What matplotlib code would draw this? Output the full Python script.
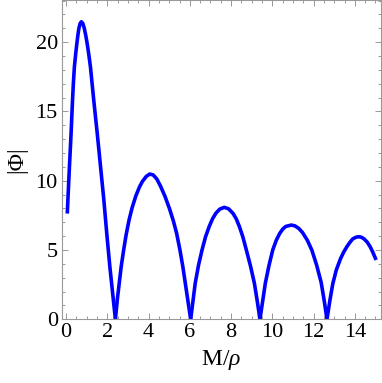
import matplotlib
matplotlib.use("Agg")
import matplotlib.pyplot as plt
from matplotlib.ticker import MultipleLocator

plt.rcParams['font.family'] = ['Liberation Serif', 'DejaVu Serif']
plt.rcParams['mathtext.fontset'] = 'custom'
plt.rcParams['mathtext.rm'] = 'Liberation Serif'
plt.rcParams['mathtext.it'] = 'Liberation Serif:italic'

# |Phi| against M/rho
m_rho = [0.06, 0.11, 0.16, 0.20, 0.24, 0.31, 0.35, 0.40, 0.46, 0.52, 0.57, 0.62,
         0.68, 0.74, 0.81, 0.88, 0.95, 1.02, 1.10, 1.18, 1.26, 1.34, 1.51, 1.67,
         1.83, 1.97, 2.12, 2.29, 2.39,
         2.48, 2.67, 2.79, 2.91, 3.05, 3.20, 3.38, 3.56, 3.70, 3.88, 4.05, 4.22,
         4.40, 4.58, 4.80, 5.02, 5.20, 5.36, 5.52, 5.66, 5.78, 5.91, 6.04,
         6.15, 6.26, 6.42, 6.59, 6.76, 6.94, 7.10, 7.26, 7.45, 7.67, 7.88, 8.09,
         8.25, 8.40, 8.57, 8.74, 8.94, 9.13, 9.27, 9.40,
         9.53, 9.66, 9.84, 10.02, 10.19, 10.36, 10.50, 10.65, 10.92, 11.10, 11.28,
         11.46, 11.70, 11.92, 12.15, 12.37, 12.52, 12.65,
         12.79, 12.93, 13.10, 13.30, 13.46, 13.62, 13.76, 13.90, 14.05, 14.19,
         14.32, 14.45, 14.60, 14.74, 14.87, 15.0]
phi = [7.76, 9.4, 11.0, 12.2, 13.4, 15.8, 17.0, 18.2, 19.1, 19.9, 20.5, 21.0,
       21.35, 21.47, 21.35, 21.0, 20.5, 19.9, 19.1, 18.2, 17.0, 15.8, 13.4, 11.0,
       8.6, 6.2, 3.8, 1.4, 0.0,
       1.4, 3.8, 5.0, 6.1, 7.15, 8.05, 8.9, 9.56, 9.95, 10.3, 10.48, 10.42,
       10.12, 9.6, 8.85, 7.95, 7.1, 6.2, 5.0, 3.8, 2.6, 1.3, 0.0,
       1.3, 2.6, 3.9, 5.0, 5.95, 6.7, 7.25, 7.65, 7.95, 8.08, 7.97, 7.65,
       7.25, 6.7, 5.95, 5.0, 3.85, 2.6, 1.3, 0.0,
       1.3, 2.6, 3.9, 5.0, 5.7, 6.2, 6.5, 6.7, 6.8, 6.74, 6.56,
       6.27, 5.7, 4.98, 3.9, 2.65, 1.3, 0.0,
       1.35, 2.55, 3.55, 4.35, 4.85, 5.25, 5.55, 5.8, 5.92, 5.96,
       5.92, 5.8, 5.57, 5.25, 4.85, 4.4]

fig = plt.figure(figsize=(3.82, 3.83), dpi=100)
ax = fig.add_axes([62 / 382, (383 - 319.3) / 383, 319 / 382, 319.3 / 383])

# draw each arch on its own so the zeros come out as sharp V tips
zeros = [i for i, v in enumerate(phi) if v == 0]
bounds = [0] + zeros + [len(phi) - 1]
for a, b in zip(bounds[:-1], bounds[1:]):
    ax.plot(m_rho[a:b + 1], phi[a:b + 1], color='#0000ff', lw=2.6,
            solid_joinstyle='round', solid_capstyle='projecting')

ax.set_xlim(-0.2, 15.27)
ax.set_ylim(0, 23.04)
ax.xaxis.set_major_locator(MultipleLocator(2))
ax.xaxis.set_minor_locator(MultipleLocator(0.5))
ax.yaxis.set_major_locator(MultipleLocator(5))
ax.yaxis.set_minor_locator(MultipleLocator(1))

gray = '#999999'
for s in ax.spines.values():
    s.set_color(gray)
    s.set_linewidth(0.8)
ax.tick_params(which='both', direction='in', top=True, right=True,
               color=gray, width=0.7, labelsize=16, labelcolor='black')
ax.tick_params(which='major', length=4, pad=3)
ax.tick_params(which='minor', length=2)

ax.set_xlabel(r'M/$\rho$', fontsize=17, labelpad=4)
ax.set_ylabel('|Φ|', fontsize=17, labelpad=6)

fig.savefig('out.png', dpi=100)
